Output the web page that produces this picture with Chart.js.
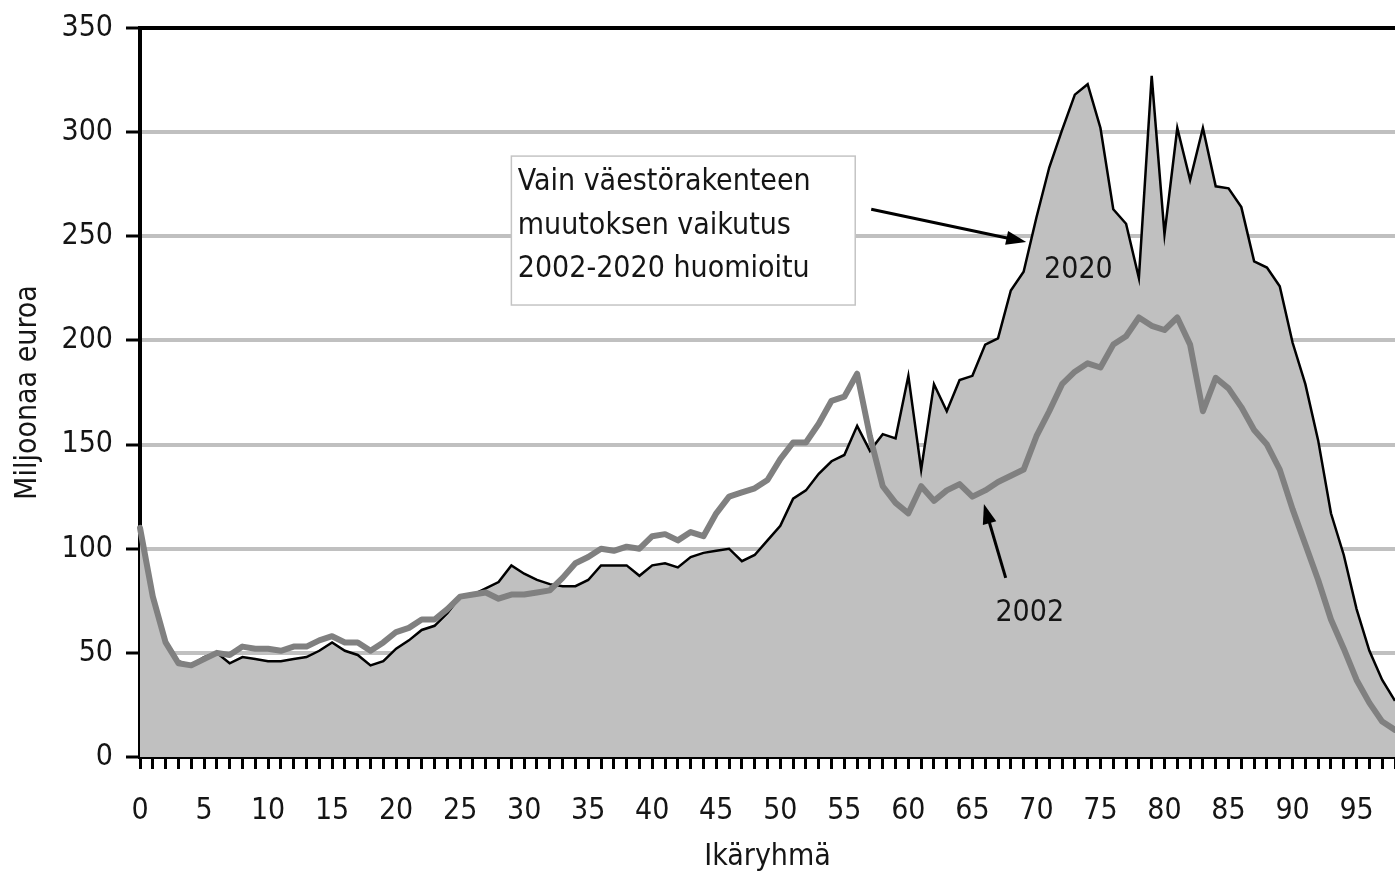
<!DOCTYPE html>
<html>
<head>
<meta charset="utf-8">
<script src="https://cdn.jsdelivr.net/npm/chart.js@4.4.1/dist/chart.umd.min.js"></script>
<style>
  html, body { margin: 0; padding: 0; background: #fff; }
  #wrap { width: 1395px; height: 875px; }
</style>
</head>
<body>
<div id="wrap"><canvas id="chart" width="1395" height="875"></canvas></div>
<script>
// Ikäryhmät
const ages = [
   0,  1,  2,  3,  4,  5,  6,  7,  8,  9,
  10, 11, 12, 13, 14, 15, 16, 17, 18, 19,
  20, 21, 22, 23, 24, 25, 26, 27, 28, 29,
  30, 31, 32, 33, 34, 35, 36, 37, 38, 39,
  40, 41, 42, 43, 44, 45, 46, 47, 48, 49,
  50, 51, 52, 53, 54, 55, 56, 57, 58, 59,
  60, 61, 62, 63, 64, 65, 66, 67, 68, 69,
  70, 71, 72, 73, 74, 75, 76, 77, 78, 79,
  80, 81, 82, 83, 84, 85, 86, 87, 88, 89,
  90, 91, 92, 93, 94, 95, 96, 97, 98
];

// Menot 2020 (vain väestörakenteen muutos), milj. euroa
const values2020 = [
  108, 75, 56, 46, 44, 48, 50, 45, 48, 47,
   46, 46, 47, 48, 51, 55, 51, 49, 44, 46,
   52, 56, 61, 63, 69, 77, 78, 81, 84, 92,
   88, 85, 83, 82, 82, 85, 92, 92, 92, 87,
   92, 93, 91, 96, 98, 99, 100, 94, 97, 104,
  111, 124, 128, 136, 142, 145, 159, 147, 155, 153,
  183, 138, 179, 166, 181, 183, 198, 201, 224, 233,
  259, 283, 301, 318, 323, 302, 263, 256, 230, 327,
  251, 302, 277, 302, 274, 273, 264, 238, 235, 226,
  199, 179, 152, 117, 97, 71, 51, 37, 27
];

// Menot 2002, milj. euroa
const values2002 = [
  110, 77, 55, 45, 44, 47, 50, 49, 53, 52,
   52, 51, 53, 53, 56, 58, 55, 55, 51, 55,
   60, 62, 66, 66, 71, 77, 78, 79, 76, 78,
   78, 79, 80, 86, 93, 96, 100, 99, 101, 100,
  106, 107, 104, 108, 106, 117, 125, 127, 129, 133,
  143, 151, 151, 160, 171, 173, 184, 154, 130, 122,
  117, 130, 123, 128, 131, 125, 128, 132, 135, 138,
  154, 166, 179, 185, 189, 187, 198, 202, 211, 207,
  205, 211, 198, 166, 182, 177, 168, 157, 150, 138,
  119, 102, 85, 66, 52, 37, 26, 17, 13
];

const yTicks = [0, 50, 100, 150, 200, 250, 300, 350];
const boxLines = ['Vain väestörakenteen', 'muutoksen vaikutus', '2002-2020 huomioitu'];

const NARROW = "'Liberation Sans Narrow', 'DejaVu Sans Condensed', 'Open Sans', sans-serif";
const TEXT = '#151515';

function arrow(ctx, x1, y1, x2, y2) {
  const ang = Math.atan2(y2 - y1, x2 - x1);
  const head = 20, half = 7;
  ctx.save();
  ctx.strokeStyle = '#000';
  ctx.fillStyle = '#000';
  ctx.lineWidth = 3;
  ctx.beginPath();
  ctx.moveTo(x1, y1);
  ctx.lineTo(x2 - Math.cos(ang) * head * 0.8, y2 - Math.sin(ang) * head * 0.8);
  ctx.stroke();
  ctx.beginPath();
  ctx.moveTo(x2, y2);
  ctx.lineTo(x2 - Math.cos(ang) * head - Math.sin(ang) * half, y2 - Math.sin(ang) * head + Math.cos(ang) * half);
  ctx.lineTo(x2 - Math.cos(ang) * head + Math.sin(ang) * half, y2 - Math.sin(ang) * head - Math.cos(ang) * half);
  ctx.closePath();
  ctx.fill();
  ctx.restore();
}

// Selitelaatikko, nuolet ja vuosiluvut
const notes = {
  id: 'notes',
  afterDatasetsDraw(chart) {
    const { ctx, scales: { x, y } } = chart;
    const px = a => x.getPixelForValue(a);
    const py = v => y.getPixelForValue(v);

    ctx.save();
    const bx = px(29.0), by = py(288.5), bw = px(55.85) - bx, bh = py(217) - by;
    ctx.fillStyle = '#fff';
    ctx.fillRect(bx, by, bw, bh);
    ctx.strokeStyle = '#c4c4c4';
    ctx.lineWidth = 1.5;
    ctx.strokeRect(bx, by, bw, bh);

    ctx.fillStyle = TEXT;
    ctx.font = '30px ' + NARROW;
    ctx.textBaseline = 'middle';
    ctx.textAlign = 'left';
    [276, 255, 234].forEach((v, i) => ctx.fillText(boxLines[i], px(29.5), py(v)));

    arrow(ctx, px(57.1), py(263), px(69.2), py(247.2));
    arrow(ctx, px(67.6), py(86), px(65.9), py(121.5));

    ctx.fillText('2020', px(70.6), py(233.5));
    ctx.fillText('2002', px(66.8), py(69));
    ctx.restore();
  }
};

window.onload = function() {
  const ctx = document.getElementById('chart').getContext('2d');
  new Chart(ctx, {
    type: 'line',
    data: {
      labels: ages,
      datasets: [
        {
          label: '2002',
          data: values2002,
          borderColor: '#808080',
          borderWidth: 6,
          borderJoinStyle: 'round',
          borderCapStyle: 'round',
          pointRadius: 0,
          fill: false,
          tension: 0
        },
        {
          label: '2020',
          data: values2020,
          borderColor: '#000',
          borderWidth: 2.5,
          backgroundColor: '#c0c0c0',
          pointRadius: 0,
          fill: 'origin',
          tension: 0
        }
      ]
    },
    options: {
      responsive: false,
      animation: false,
      layout: { padding: { top: 28, right: 0, left: 0, bottom: 0 } },
      plugins: {
        legend: { display: false },
        tooltip: { enabled: false }
      },
      scales: {
        x: {
          type: 'category',
          offset: false,
          border: { display: true, color: '#000', width: 4 },
          grid: {
            drawOnChartArea: false,
            drawTicks: true,
            tickLength: 12,
            tickWidth: 3,
            tickColor: '#000'
          },
          ticks: {
            autoSkip: false,
            maxRotation: 0,
            padding: 24,
            color: TEXT,
            font: { family: NARROW, size: 30 },
            callback: (val, i) => (ages[i] % 5 === 0 ? String(ages[i]) : '')
          },
          title: {
            display: true,
            text: 'Ikäryhmä',
            color: TEXT,
            font: { family: NARROW, size: 30 },
            padding: { top: 0, bottom: 0 }
          },
          afterFit: s => {
            s.height = 118;
            s.paddingLeft = 0;
            s.paddingRight = 0;
          }
        },
        y: {
          min: 0,
          max: 350,
          border: { display: true, color: '#000', width: 4 },
          grid: {
            color: c => (c.tick && c.tick.value === 350 ? '#000' : '#c0c0c0'),
            lineWidth: 4,
            tickLength: 14,
            tickWidth: 3,
            tickColor: '#000'
          },
          afterBuildTicks: s => { s.ticks = yTicks.map(v => ({ value: v })); },
          ticks: {
            padding: 13,
            color: TEXT,
            font: { family: NARROW, size: 30 }
          },
          title: {
            display: true,
            text: 'Miljoonaa euroa',
            color: TEXT,
            font: { family: NARROW, size: 30 },
            padding: { top: 10, bottom: 0 }
          },
          afterFit: s => {
            s.width = 140;
            s.paddingTop = 0;
            s.paddingBottom = 0;
          }
        }
      }
    },
    plugins: [notes]
  });
};
</script>
</body>
</html>
